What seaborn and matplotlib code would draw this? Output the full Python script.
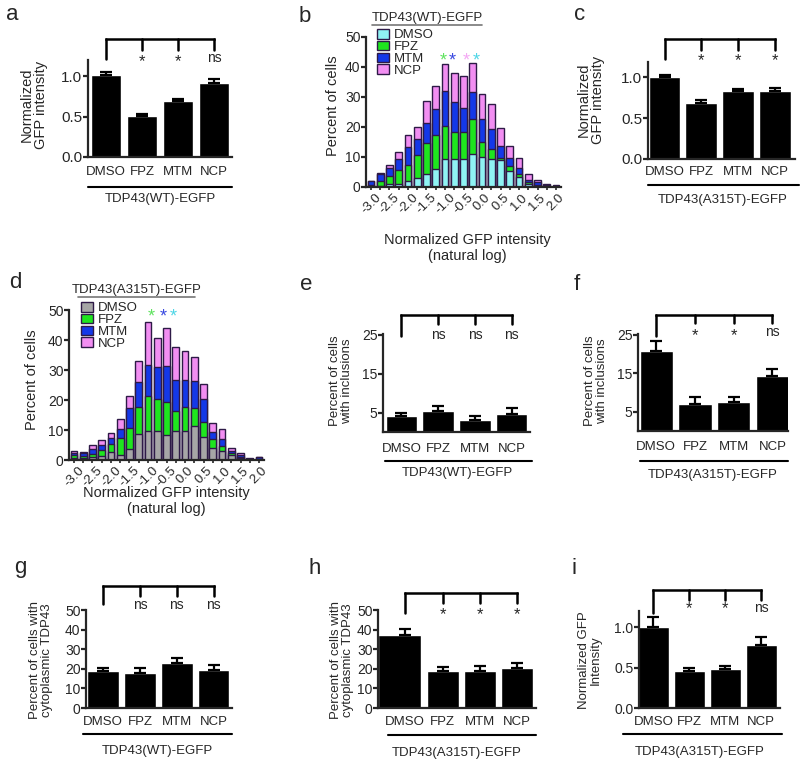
import matplotlib
matplotlib.use("Agg")
import matplotlib.pyplot as plt
from matplotlib.lines import Line2D
from matplotlib.patches import Patch
import numpy as np
import pandas as pd
import seaborn as sns

# ---- data ----
treatments = ["DMSO", "FPZ", "MTM", "NCP"]

# bar panels: means and upper SEM
a_mean = [1.02, 0.51, 0.69, 0.92]
a_err = [0.03, 0.02, 0.025, 0.04]
c_mean = [1.00, 0.69, 0.83, 0.84]
c_err = [0.035, 0.03, 0.03, 0.035]
e_mean = [4.0, 5.4, 3.2, 4.7]
e_err = [1.0, 1.3, 1.0, 1.4]
f_mean = [20.9, 6.9, 7.5, 14.4]
f_err = [2.4, 2.0, 1.4, 1.7]
g_mean = [18.9, 17.9, 23.2, 19.6]
g_err = [1.7, 2.7, 2.2, 2.1]
h_mean = [37.5, 18.9, 18.9, 20.6]
h_err = [2.8, 2.1, 2.3, 2.4]
i_mean = [1.00, 0.46, 0.48, 0.78]
i_err = [0.13, 0.04, 0.045, 0.095]

# histograms (stacked, cumulative top of each layer)
bins = [-3.0, -2.75, -2.5, -2.25, -2.0, -1.75, -1.5, -1.25, -1.0, -0.75, -0.5,
        -0.25, 0.0, 0.25, 0.5, 0.75, 1.0, 1.25, 1.5, 1.75, 2.0]
wt_dmso = [0.2, 0.3, 0.9, 1.0, 2.0, 3.1, 4.5, 6.1, 9.3, 9.3, 9.3, 11.0, 10.1, 9.2, 8.9, 5.3, 3.3, 1.0, 0.5, 0.3, 0.2]
wt_fpz = [0.7, 2.0, 3.8, 5.6, 7.4, 10.8, 14.6, 17.5, 20.4, 18.2, 18.5, 22.8, 15.1, 12.6, 9.6, 7.1, 4.5, 1.7, 0.8, 0.5, 0.3]
wt_mtm = [2.0, 4.5, 6.5, 9.4, 13.4, 16.0, 21.2, 26.0, 32.0, 28.4, 26.5, 31.7, 22.6, 19.2, 13.8, 9.6, 6.2, 2.5, 1.6, 0.8, 0.5]
wt_ncp = [2.1, 4.6, 7.4, 11.7, 17.4, 20.0, 28.7, 33.7, 40.9, 38.1, 36.9, 41.3, 31.1, 27.6, 19.7, 13.8, 9.8, 4.4, 2.2, 1.0, 0.6]

mut_dmso = [0.6, 0.7, 0.9, 1.2, 2.8, 1.7, 3.6, 8.7, 9.7, 9.7, 8.4, 9.8, 9.6, 11.5, 7.7, 4.0, 3.1, 1.7, 0.7, 0.2, 0.3]
mut_fpz = [1.6, 1.2, 2.0, 3.3, 5.4, 7.4, 10.7, 17.6, 21.3, 20.4, 19.3, 16.3, 17.6, 17.3, 12.6, 7.0, 4.8, 2.2, 1.0, 0.3, 0.5]
mut_mtm = [2.3, 2.5, 3.8, 5.1, 7.5, 10.3, 17.4, 25.9, 31.7, 31.0, 31.3, 26.8, 26.8, 26.5, 20.2, 9.2, 6.9, 3.1, 1.8, 0.5, 0.9]
mut_ncp = [2.9, 2.7, 4.9, 6.6, 9.0, 13.7, 21.2, 32.9, 46.1, 40.7, 44.1, 37.6, 36.4, 34.4, 25.3, 12.5, 10.2, 3.9, 2.2, 0.7, 1.0]

W, H = 800, 767
sns.set_style("ticks")
plt.rcParams["font.family"] = ["Liberation Sans", "DejaVu Sans"]

fig = plt.figure(figsize=(W / 100, H / 100), dpi=100)


def px_axes(L, T, R, B):
    return fig.add_axes([L / W, 1 - B / H, (R - L) / W, (B - T) / H])


def ax_frac(ax, ypx):
    pos = ax.get_position()
    return ((1 - ypx / H) - pos.y0) / pos.height


def ftext(x, y, s, **kw):
    kw.setdefault("ha", "center")
    kw.setdefault("va", "center")
    fig.text(x / W, 1 - y / H, s, **kw)


def hline(x0, x1, y, color="black", lw=1.5):
    fig.add_artist(Line2D([x0 / W, x1 / W], [1 - y / H] * 2, color=color, lw=lw))


def style_axis(ax, ylim, yticks, tick_fs):
    ax.set_ylim(*ylim)
    ax.set_yticks(yticks)
    sns.despine(ax=ax)
    ax.spines["left"].set_linewidth(1.6)
    ax.spines["bottom"].set_linewidth(1.6)
    ax.tick_params(axis="y", length=3.5, width=1.6, pad=0.5, labelsize=tick_fs)
    ax.set_xlabel("")
    ax.set_ylabel("")


def bar_panel(rect, vals, errs, ylim, yticks, xlim, marks, br_y, drop0_y, drop_y, mark_y,
              pad, tick_fs=10, width=0.86):
    ax = px_axes(*rect)
    sns.barplot(x=treatments, y=vals, color="black", width=width, saturation=1, ax=ax)
    ax.errorbar(range(4), vals, yerr=[np.zeros(4), errs], fmt="none", ecolor="black",
                elinewidth=1.6, capsize=4.5, capthick=1.6)
    ax.set_xlim(*xlim)
    style_axis(ax, ylim, yticks, tick_fs)
    ax.tick_params(axis="x", length=0, pad=pad, labelsize=9.5)
    t = ax.get_xaxis_transform()
    yb = ax_frac(ax, br_y)
    kw = dict(transform=t, color="black", lw=1.8, clip_on=False)
    ax.plot([0, 3], [yb, yb], solid_capstyle="projecting", **kw)
    ax.plot([0, 0], [yb, ax_frac(ax, drop0_y)], **kw)
    for i, m in enumerate(marks, start=1):
        ax.plot([i, i], [yb, ax_frac(ax, drop_y)], **kw)
        if m == "*":
            ax.text(i, ax_frac(ax, mark_y + 4), m, transform=t, ha="center", va="center", fontsize=12)
        else:
            ax.text(i, ax_frac(ax, max(mark_y, drop_y + 8)), m, transform=t, ha="center",
                    va="center", fontsize=10)
    return ax


def hist_panel(rect, layers, dmso_color, stars, star_y):
    ax = px_axes(*rect)
    names = ["DMSO", "FPZ", "MTM", "NCP"]
    colors = {"DMSO": dmso_color, "FPZ": "#1ee61e", "MTM": "#1438e8", "NCP": "#f28ef2"}
    df = pd.concat([pd.DataFrame({"bin": bins, "top": v, "trt": n}) for n, v in zip(names, layers)])
    sns.barplot(data=df, x="bin", y="top", hue="trt", hue_order=names[::-1], palette=colors,
                dodge=False, width=0.72, saturation=1, edgecolor="#2e1a47", linewidth=1,
                legend=False, ax=ax)
    ax.set_xlim(-0.54, 20.54)
    style_axis(ax, (0, 50), range(0, 51, 10), 10)
    ax.set_xticks(range(len(bins)))
    ax.set_xticklabels([f"{b:.1f}" if k % 2 == 0 else "" for k, b in enumerate(bins)], rotation=45)
    ax.tick_params(axis="x", length=2.2, width=1.2, pad=1, labelsize=9.5)
    handles = [Patch(facecolor=colors[n], edgecolor="#2e1a47", lw=1, label=n) for n in names]
    t = ax.get_xaxis_transform()
    for xs, col in stars:
        ax.text(xs, ax_frac(ax, star_y + 4), "*", transform=t, ha="center", va="center",
                color=col, fontsize=13)
    return ax, handles


# ---- panel a ----
bar_panel((88, 60, 232, 157), a_mean, a_err, (0, 1.2), [0, 0.5, 1.0], (-0.5, 3.5),
          ["*", "*", "ns"], 39, 59, 50, 58, 6.5, tick_fs=11)
ftext(34, 105, "Normalized\nGFP intensity", rotation=90, fontsize=10.5, linespacing=1.05)
hline(88, 232, 187)
ftext(160, 199, "TDP43(WT)-EGFP", fontsize=9.5)

# ---- panel c ----
bar_panel((648, 62, 795, 159), c_mean, c_err, (0, 1.19), [0, 0.5, 1.0], (-0.45, 3.55),
          ["*", "*", "*"], 39, 59, 50, 57, 5, tick_fs=11)
ftext(591, 100, "Normalized\nGFP intensity", rotation=90, fontsize=10.5, linespacing=1.05)
hline(648, 799, 185)
ftext(723, 200, "TDP43(A315T)-EGFP", fontsize=9.5)

# ---- panel e ----
bar_panel((383, 334, 530, 432), e_mean, e_err, (0, 25.2), [5, 15, 25], (-0.5, 3.5),
          ["ns", "ns", "ns"], 315, 336, 324, 335, 8)
ftext(341, 381, "Percent of cells\nwith inclusions", rotation=90, fontsize=9.5, linespacing=1.05)
hline(385, 532, 461)
ftext(457, 473, "TDP43(WT)-EGFP", fontsize=9.5)

# ---- panel f ----
bar_panel((638, 334, 788, 431), f_mean, f_err, (0, 25.2), [5, 15, 25], (-0.47, 3.4),
          ["*", "*", "ns"], 315, 336, 323, 332, 7)
ftext(596, 381, "Percent of cells\nwith inclusions", rotation=90, fontsize=9.5, linespacing=1.05)
hline(640, 788, 461)
ftext(713, 475, "TDP43(A315T)-EGFP", fontsize=9.5)

# ---- panel g ----
bar_panel((86, 610, 232, 708), g_mean, g_err, (0, 50), range(0, 51, 10), (-0.47, 3.5),
          ["ns", "ns", "ns"], 586, 604, 596, 605, 5.8)
ftext(41, 660, "Percent of cells with\ncytoplasmic TDP43", rotation=90, fontsize=9.5, linespacing=1.05)
hline(83, 232, 734)
ftext(157, 751, "TDP43(WT)-EGFP", fontsize=9.5)

# ---- panel h ----
ax_h = bar_panel((378, 610, 536, 708), h_mean, h_err, (0, 50), range(0, 51, 10), (-0.73, 3.5),
                 ["*", "*", "*"], 593, 613, 603, 611, 5.8)
p0 = ax_h.patches[0]
right = p0.get_x() + p0.get_width()
p0.set_x(ax_h.get_xlim()[0])
p0.set_width(right - ax_h.get_xlim()[0])
ftext(342, 660, "Percent of cells with\ncytoplasmic TDP43", rotation=90, fontsize=9.5, linespacing=1.05)
hline(388, 536, 735)
ftext(457, 753, "TDP43(A315T)-EGFP", fontsize=9.5)

# ---- panel i ----
bar_panel((639, 611, 780, 708), i_mean, i_err, (0, 1.2), [0, 0.5, 1.0], (-0.4, 3.52),
          ["*", "*", "ns"], 590, 613, 600, 605, 5.8)
ftext(590, 660, "Normalized GFP\nIntensity", rotation=90, fontsize=9.5, linespacing=1.05)
hline(623, 782, 734)
ftext(700, 752, "TDP43(A315T)-EGFP", fontsize=9.5)

# ---- panel b ----
ax_b, hb = hist_panel((366, 37, 561, 187), [wt_dmso, wt_fpz, wt_mtm, wt_ncp], "#8ff3f3",
                      [(7.8, "#5fe35f"), (8.75, "#3a4ae0"), (10.3, "#f4a8f4"), (11.35, "#4fd6e6")], 57)
ax_b.legend(handles=hb, loc="upper left", bbox_to_anchor=(377 / W, 1 - 29 / H),
            bbox_transform=fig.transFigure, frameon=False, fontsize=9.5, handlelength=0.9,
            handleheight=0.75, handletextpad=0.35, labelspacing=-0.05, borderpad=0, borderaxespad=0)
ftext(427, 18, "TDP43(WT)-EGFP", fontsize=9.5)
hline(372, 482, 25, color="#777777", lw=1.2)
ftext(467, 248, "Normalized GFP intensity\n(natural log)", fontsize=10.5, linespacing=1.2)
ftext(333, 106, "Percent of cells", rotation=90, fontsize=10.5)

# ---- panel d ----
ax_d, hd = hist_panel((69, 310, 264, 460), [mut_dmso, mut_fpz, mut_mtm, mut_ncp], "#a6a6a6",
                      [(8.4, "#5fe35f"), (9.6, "#3a4ae0"), (10.7, "#4fd6e6")], 313)
ax_d.legend(handles=hd, loc="upper left", bbox_to_anchor=(81 / W, 1 - 302 / H),
            bbox_transform=fig.transFigure, frameon=False, fontsize=9.5, handlelength=0.9,
            handleheight=0.75, handletextpad=0.35, labelspacing=-0.05, borderpad=0, borderaxespad=0)
ftext(137, 290, "TDP43(A315T)-EGFP", fontsize=9.5)
hline(78, 195, 297, color="#777777", lw=1.2)
ftext(166, 501, "Normalized GFP intensity\n(natural log)", fontsize=10.5, linespacing=1.2)
ftext(32, 380, "Percent of cells", rotation=90, fontsize=10.5)

# ---- panel letters ----
for letter, (x, y) in {"a": (12, 14), "b": (305, 17), "c": (580, 15), "d": (15, 283),
                       "e": (306, 285), "f": (577, 285), "g": (20, 568), "h": (315, 568),
                       "i": (574, 568)}.items():
    ftext(x, y, letter, fontsize=16)

fig.savefig("out.png", dpi=100)
